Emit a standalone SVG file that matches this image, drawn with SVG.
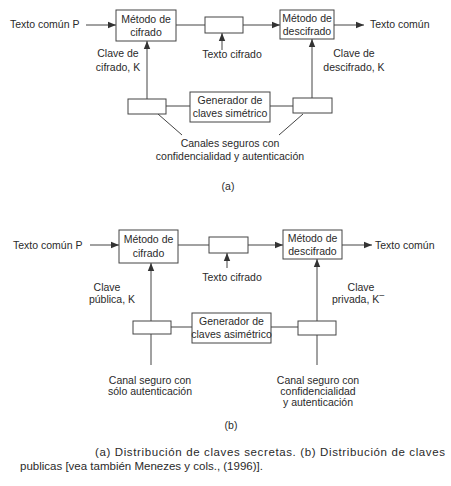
<svg xmlns="http://www.w3.org/2000/svg" width="451" height="486" viewBox="0 0 451 486">
<style>
text{font-family:"Liberation Sans",Arial,sans-serif;font-size:10.5px;fill:#2a2a2a}
.c{text-anchor:middle}
.box{fill:#fff;stroke:#444;stroke-width:1}
.ln{stroke:#444;stroke-width:1;fill:none}
.cap{font-size:11.5px}
</style>
<defs>
<marker id="ah" viewBox="0 0 10 10" refX="10" refY="5" markerWidth="8" markerHeight="8" markerUnits="userSpaceOnUse" orient="auto">
<path d="M0,1 L10,5 L0,9 z" fill="#333"/>
</marker>
</defs>
<rect width="451" height="486" fill="#fff"/>

<!-- Part (a) -->
<g id="connectors-a">
<line class="ln" x1="86" y1="25" x2="116" y2="25" marker-end="url(#ah)"/>
<line class="ln" x1="176" y1="25" x2="205" y2="25"/>
<line class="ln" x1="243" y1="25" x2="280" y2="25" marker-end="url(#ah)"/>
<line class="ln" x1="334" y1="25" x2="364" y2="25" marker-end="url(#ah)"/>
<line class="ln" x1="222" y1="50" x2="222" y2="33" marker-end="url(#ah)"/>
<line class="ln" x1="147" y1="99" x2="147" y2="41" marker-end="url(#ah)"/>
<line class="ln" x1="312" y1="98" x2="312" y2="39" marker-end="url(#ah)"/>
<line class="ln" x1="166" y1="106" x2="190" y2="106"/>
<line class="ln" x1="270" y1="106" x2="293" y2="106"/>
<line class="ln" x1="158" y1="114" x2="182" y2="135"/>
<line class="ln" x1="303" y1="114" x2="279" y2="135"/>
</g>
<g id="a-cifrado"><rect class="box" x="116" y="10" width="60" height="31"/><text class="c" x="146" y="23">Método de</text><text class="c" x="146" y="36">cifrado</text></g>
<g id="a-canal"><rect class="box" x="205" y="17" width="38" height="16"/></g>
<g id="a-descifrado"><rect class="box" x="280" y="10" width="54" height="29"/><text class="c" x="307" y="22">Método de</text><text class="c" x="307" y="35">descifrado</text></g>
<g id="a-gen"><rect class="box" x="190" y="92" width="80" height="30"/><text class="c" x="230" y="104">Generador de</text><text class="c" x="230" y="117">claves simétrico</text></g>
<g id="a-box-l"><rect class="box" x="128" y="99" width="38" height="15"/></g>
<g id="a-box-r"><rect class="box" x="293" y="98" width="39" height="15"/></g>
<g id="a-labels">
<text x="10" y="28">Texto común P</text>
<text x="370" y="28">Texto común</text>
<text class="c" x="232" y="58">Texto cifrado</text>
<text class="c" x="118" y="57">Clave de</text>
<text class="c" x="118" y="71">cifrado, K</text>
<text class="c" x="354" y="57">Clave de</text>
<text class="c" x="354" y="71">descifrado, K</text>
<text class="c" x="230" y="147">Canales seguros con</text>
<text class="c" x="230" y="160">confidencialidad y autenticación</text>
<text class="c" x="228" y="190">(a)</text>
</g>

<!-- Part (b) -->
<g id="connectors-b">
<line class="ln" x1="90" y1="245" x2="119" y2="245" marker-end="url(#ah)"/>
<line class="ln" x1="178" y1="245" x2="209" y2="245"/>
<line class="ln" x1="248" y1="245" x2="283" y2="245" marker-end="url(#ah)"/>
<line class="ln" x1="342" y1="245" x2="372" y2="245" marker-end="url(#ah)"/>
<line class="ln" x1="227" y1="268" x2="227" y2="253" marker-end="url(#ah)"/>
<line class="ln" x1="151" y1="322" x2="151" y2="263" marker-end="url(#ah)"/>
<line class="ln" x1="151" y1="334" x2="151" y2="365"/>
<line class="ln" x1="317" y1="321" x2="317" y2="259" marker-end="url(#ah)"/>
<line class="ln" x1="317" y1="335" x2="317" y2="365"/>
<line class="ln" x1="171" y1="327" x2="192" y2="327"/>
<line class="ln" x1="271" y1="327" x2="298" y2="327"/>
</g>
<g id="b-cifrado"><rect class="box" x="119" y="230" width="59" height="33"/><text class="c" x="148.5" y="243">Método de</text><text class="c" x="148.5" y="257">cifrado</text></g>
<g id="b-canal"><rect class="box" x="209" y="237" width="39" height="16"/></g>
<g id="b-descifrado"><rect class="box" x="283" y="230" width="59" height="29"/><text class="c" x="312.5" y="242">Método de</text><text class="c" x="312.5" y="255">descifrado</text></g>
<g id="b-gen"><rect class="box" x="192" y="313" width="79" height="30"/><text class="c" x="231.5" y="325">Generador de</text><text class="c" x="231.5" y="338">claves asimétrico</text></g>
<g id="b-box-l"><rect class="box" x="133" y="321" width="38" height="13"/></g>
<g id="b-box-r"><rect class="box" x="298" y="321" width="38" height="14"/></g>
<g id="b-labels">
<text x="13" y="249">Texto común P</text>
<text x="375" y="249">Texto común</text>
<text class="c" x="232" y="281">Texto cifrado</text>
<text class="c" x="107" y="291">Clave</text>
<text class="c" x="112" y="303">pública, K</text>
<text class="c" x="361" y="291">Clave</text>
<text x="332" y="303">privada, K<tspan dy="-5" font-size="9">–</tspan></text>
<text class="c" x="150" y="384">Canal seguro con</text>
<text class="c" x="150" y="395">sólo autenticación</text>
<text class="c" x="318" y="384">Canal seguro con</text>
<text class="c" x="318" y="395">confidencialidad</text>
<text class="c" x="318" y="406">y autenticación</text>
<text class="c" x="231" y="429">(b)</text>
</g>

<g id="caption">
<text class="cap" x="95" y="456" textLength="350" lengthAdjust="spacing">(a) Distribución de claves secretas. (b) Distribución de claves</text>
<text class="cap" x="20" y="470">publicas [vea también Menezes y cols., (1996)].</text>
</g>
</svg>
